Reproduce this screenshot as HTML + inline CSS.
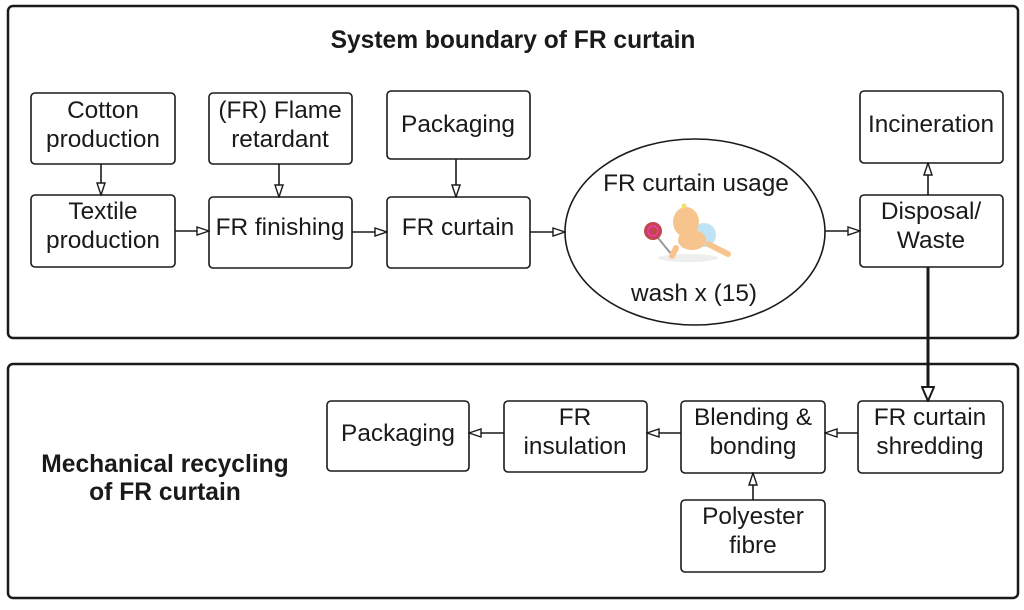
<!DOCTYPE html>
<html><head><meta charset="utf-8"><style>
html,body{margin:0;padding:0;background:#fff;}
svg{display:block;}
text{font-family:"Liberation Sans",sans-serif;fill:#1a1a1a;}
</style></head><body>
<svg width="1024" height="610" viewBox="0 0 1024 610" xmlns="http://www.w3.org/2000/svg">
<defs>
<marker id="a" markerWidth="14" markerHeight="10" refX="13" refY="5" orient="auto" markerUnits="userSpaceOnUse">
<path d="M1,1 L13,5 L1,9 Z" fill="#fff" stroke="#1a1a1a" stroke-width="1.4"/>
</marker>
<marker id="b" markerWidth="16" markerHeight="14" refX="15" refY="7" orient="auto" markerUnits="userSpaceOnUse">
<path d="M1,1 L15,7 L1,13 Z" fill="#fff" stroke="#1a1a1a" stroke-width="2"/>
</marker>
</defs>
<g fill="none" stroke="#1a1a1a">
<rect x="8" y="6" width="1010" height="332" rx="5" stroke-width="2.5"/>
<rect x="8" y="364" width="1010" height="234" rx="5" stroke-width="2.5"/>
<g stroke-width="1.6" fill="#fff">
<rect x="31" y="93" width="144" height="71" rx="4"/>
<rect x="209" y="93" width="143" height="71" rx="4"/>
<rect x="387" y="91" width="143" height="68" rx="4"/>
<rect x="860" y="91" width="143" height="72" rx="4"/>
<rect x="31" y="195" width="144" height="72" rx="4"/>
<rect x="209" y="197" width="143" height="71" rx="4"/>
<rect x="387" y="197" width="143" height="71" rx="4"/>
<rect x="860" y="195" width="143" height="72" rx="4"/>
<ellipse cx="695" cy="232" rx="130" ry="93"/>
<rect x="327" y="401" width="142" height="70" rx="4"/>
<rect x="504" y="401" width="143" height="71" rx="4"/>
<rect x="681" y="401" width="144" height="72" rx="4"/>
<rect x="858" y="401" width="145" height="72" rx="4"/>
<rect x="681" y="500" width="144" height="72" rx="4"/>
</g>
<g stroke-width="1.6">
<line x1="101" y1="164" x2="101" y2="195" marker-end="url(#a)"/>
<line x1="279" y1="164" x2="279" y2="197" marker-end="url(#a)"/>
<line x1="456" y1="159" x2="456" y2="197" marker-end="url(#a)"/>
<line x1="175" y1="231" x2="209" y2="231" marker-end="url(#a)"/>
<line x1="352" y1="232" x2="387" y2="232" marker-end="url(#a)"/>
<line x1="530" y1="232" x2="565" y2="232" marker-end="url(#a)"/>
<line x1="825" y1="231" x2="860" y2="231" marker-end="url(#a)"/>
<line x1="928" y1="195" x2="928" y2="163" marker-end="url(#a)"/>
<line x1="858" y1="433" x2="825" y2="433" marker-end="url(#a)"/>
<line x1="681" y1="433" x2="647" y2="433" marker-end="url(#a)"/>
<line x1="504" y1="433" x2="469" y2="433" marker-end="url(#a)"/>
<line x1="753" y1="500" x2="753" y2="473" marker-end="url(#a)"/>
</g>
<line x1="928" y1="267" x2="928" y2="401" stroke-width="3" marker-end="url(#b)"/>
</g>
<g>
<ellipse cx="688" cy="258" rx="30" ry="4" fill="#eee"/>
<line x1="654" y1="233" x2="672" y2="255" stroke="#999" stroke-width="2"/>
<circle cx="653" cy="231" r="9" fill="#c0484c"/>
<circle cx="653" cy="231" r="5" fill="none" stroke="#f3c" stroke-width="1.2"/>
<ellipse cx="704" cy="235" rx="12" ry="12" fill="#bfe3f5"/>
<ellipse cx="686" cy="222" rx="13" ry="15" fill="#f8c48e"/>
<ellipse cx="692" cy="240" rx="14" ry="10" fill="#f8c48e"/>
<path d="M676 248 L672 256 M708 244 L728 254" stroke="#f8c48e" stroke-width="6" stroke-linecap="round"/>
<circle cx="684" cy="206" r="2.5" fill="#f5dd70"/>
</g>
<g font-size="24.4" text-anchor="middle">
<text x="103" y="118">Cotton</text><text x="103" y="147">production</text>
<text x="280" y="118">(FR) Flame</text><text x="280" y="147">retardant</text>
<text x="458" y="132">Packaging</text>
<text x="931" y="132">Incineration</text>
<text x="103" y="219">Textile</text><text x="103" y="248">production</text>
<text x="280" y="235">FR finishing</text>
<text x="458" y="235">FR curtain</text>
<text x="931" y="219">Disposal/</text><text x="931" y="248">Waste</text>
<text x="696" y="191">FR curtain usage</text>
<text x="694" y="301">wash x (15)</text>
<text x="398" y="441">Packaging</text>
<text x="575" y="425">FR</text><text x="575" y="454">insulation</text>
<text x="753" y="425">Blending &amp;</text><text x="753" y="454">bonding</text>
<text x="930" y="425">FR curtain</text><text x="930" y="454">shredding</text>
<text x="753" y="524">Polyester</text><text x="753" y="553">fibre</text>
</g>
<g font-size="24.6" font-weight="bold" text-anchor="middle">
<text x="513" y="48">System boundary of FR curtain</text>
<text x="165" y="472">Mechanical recycling</text>
<text x="165" y="500">of FR curtain</text>
</g>
</svg>
</body></html>
